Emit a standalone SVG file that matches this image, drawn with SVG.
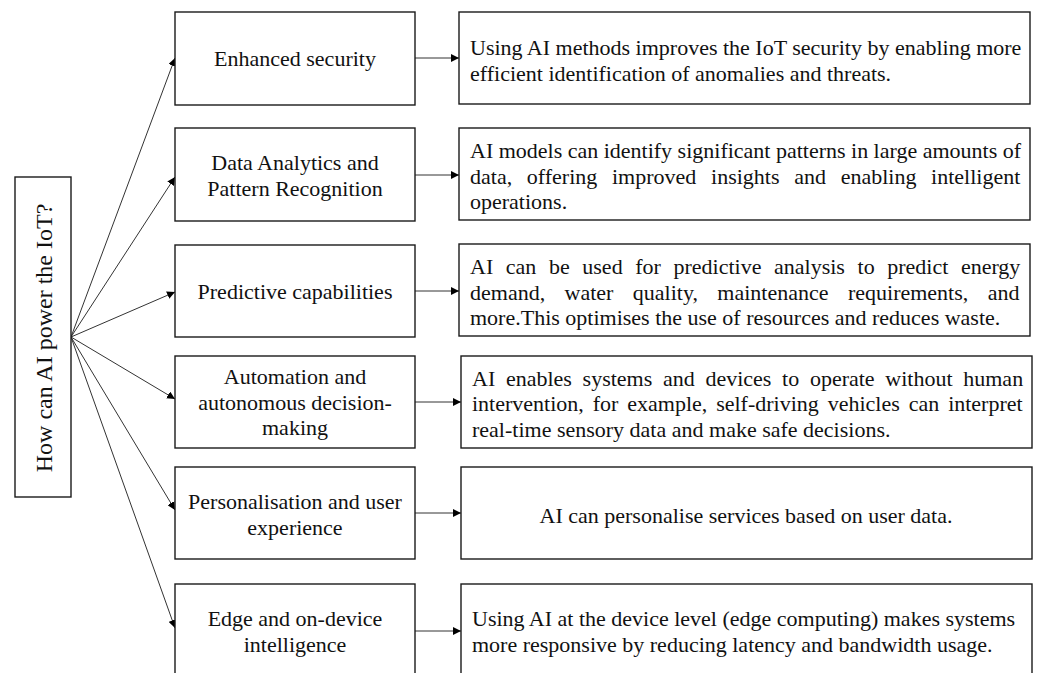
<svg xmlns="http://www.w3.org/2000/svg" width="1037" height="673" viewBox="0 0 1037 673">
<style>
.box{fill:#fff;stroke:#1a1a1a;stroke-width:1.4}
.t{font-family:"Liberation Serif","Times New Roman",serif;font-size:22px;fill:#111}
.c{text-anchor:middle}
.ln{stroke:#333;stroke-width:1;fill:none;marker-end:url(#ah)}
</style>
<defs>
<marker id="ah" viewBox="0 0 10 10" refX="10" refY="5" markerWidth="8" markerHeight="8" markerUnits="userSpaceOnUse" orient="auto">
<path d="M0,0 L10,5 L0,10 z" fill="#000"/>
</marker>
</defs>
<rect width="1037" height="673" fill="#fff"/>
<g id="connectors">
<path class="ln" d="M71,337 L175,58"/>
<path class="ln" d="M71,337 L175,177"/>
<path class="ln" d="M71,337 L175,292"/>
<path class="ln" d="M71,337 L175,399"/>
<path class="ln" d="M71,337 L175,510"/>
<path class="ln" d="M71,337 L175,628"/>
<path class="ln" d="M415,58 L459,58"/>
<path class="ln" d="M415,175 L459,175"/>
<path class="ln" d="M415,291 L459,291"/>
<path class="ln" d="M415,402 L461,402"/>
<path class="ln" d="M415,513 L461,513"/>
<path class="ln" d="M415,631 L461,631"/>
</g>
<g id="root">
<rect class="box" x="15" y="177" width="56" height="320"/>
<text class="t c" style="font-size:24px" transform="translate(52,338) rotate(-90)">How can AI power the IoT?</text>
</g>
<g id="n1">
<rect class="box" x="175" y="12" width="240" height="93"/>
<text class="t c" x="295" y="66">Enhanced security</text>
</g>
<g id="n2">
<rect class="box" x="175" y="128" width="240" height="93"/>
<text class="t c" x="295" y="170">Data Analytics and</text>
<text class="t c" x="295" y="196">Pattern Recognition</text>
</g>
<g id="n3">
<rect class="box" x="175" y="245" width="240" height="92"/>
<text class="t c" x="295" y="299">Predictive capabilities</text>
</g>
<g id="n4">
<rect class="box" x="175" y="356" width="240" height="92"/>
<text class="t c" x="295" y="384">Automation and</text>
<text class="t c" x="295" y="410">autonomous decision-</text>
<text class="t c" x="295" y="435">making</text>
</g>
<g id="n5">
<rect class="box" x="175" y="467" width="240" height="92"/>
<text class="t c" x="295" y="509">Personalisation and user</text>
<text class="t c" x="295" y="535">experience</text>
</g>
<g id="n6">
<rect class="box" x="175" y="584" width="240" height="100"/>
<text class="t c" x="295" y="626">Edge and on-device</text>
<text class="t c" x="295" y="652">intelligence</text>
</g>
<g id="d1">
<rect class="box" x="459" y="12" width="571" height="92"/>
<text class="t" x="470" y="55">Using AI methods improves the IoT security by enabling more</text>
<text class="t" x="470" y="81">efficient identification of anomalies and threats.</text>
</g>
<g id="d2">
<rect class="box" x="459" y="128" width="571" height="92"/>
<text class="t" x="470" y="158" textLength="551" lengthAdjust="spacing">AI models can identify significant patterns in large amounts of</text>
<text class="t" x="470" y="184" style="word-spacing:9.2px">data, offering improved insights and enabling intelligent</text>
<text class="t" x="470" y="209">operations.</text>
</g>
<g id="d3">
<rect class="box" x="459" y="244" width="571" height="92"/>
<text class="t" x="470" y="274" style="word-spacing:7.1px">AI can be used for predictive analysis to predict energy</text>
<text class="t" x="470" y="300" style="word-spacing:13.9px">demand, water quality, maintenance requirements, and</text>
<text class="t" x="470" y="325">more.This optimises the use of resources and reduces waste.</text>
</g>
<g id="d4">
<rect class="box" x="461" y="356" width="571" height="92"/>
<text class="t" x="472" y="386" style="word-spacing:5.2px">AI enables systems and devices to operate without human</text>
<text class="t" x="472" y="411" style="word-spacing:3.4px">intervention, for example, self-driving vehicles can interpret</text>
<text class="t" x="472" y="437">real-time sensory data and make safe decisions.</text>
</g>
<g id="d5">
<rect class="box" x="461" y="467" width="571" height="92"/>
<text class="t c" x="746" y="523">AI can personalise services based on user data.</text>
</g>
<g id="d6">
<rect class="box" x="461" y="584" width="571" height="100"/>
<text class="t" x="472" y="626">Using AI at the device level (edge computing) makes systems</text>
<text class="t" x="472" y="652">more responsive by reducing latency and bandwidth usage.</text>
</g>
</svg>
